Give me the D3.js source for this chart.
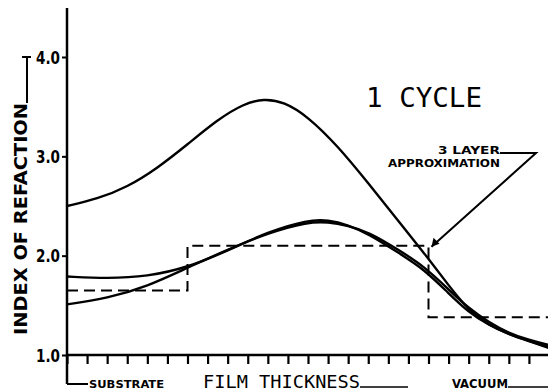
<!DOCTYPE html>
<html>
<head>
<meta charset="utf-8">
<script src="https://cdn.jsdelivr.net/npm/d3@7"></script>
<style>
  body { margin: 0; background: #fff; }
  svg { display: block; }
</style>
</head>
<body>
<svg id="chart"></svg>
<script>
// film thickness in tick units (0..24), index of refraction
const yTicks = [1.0, 2.0, 3.0, 4.0];
const xTicks = d3.range(0, 24);

const profileTop = [
  [0, 2.50], [1.5, 2.57], [3, 2.69], [4.5, 2.88], [6, 3.12], [7.5, 3.37], [8.8, 3.53],
  [9.8, 3.58], [10.8, 3.55], [12, 3.40], [13.5, 3.10], [15, 2.73], [16.5, 2.35],
  [18, 1.97], [19, 1.70], [20, 1.45], [21, 1.30], [22, 1.21], [23, 1.14], [24, 1.08]
];
const profileB = [
  [0, 1.79], [2, 1.77], [4, 1.79], [6, 1.88], [8, 2.05], [10, 2.24], [12, 2.36],
  [13, 2.36], [14, 2.31], [15, 2.22], [16.5, 2.03], [17.8, 1.86], [19, 1.62],
  [20, 1.43], [21, 1.30], [22, 1.21], [23, 1.14], [24, 1.07]
];
const profileC = [
  [0, 1.51], [2, 1.57], [4, 1.69], [6, 1.88], [8, 2.06], [10, 2.23], [12, 2.34],
  [13, 2.34], [14, 2.30], [15, 2.24], [16.5, 2.06], [17.8, 1.89], [19, 1.66],
  [20, 1.47], [21, 1.33], [22, 1.22], [23, 1.15], [24, 1.10]
];
// 3 layer approximation (step after)
const layers = [[0, 1.65], [6, 2.10], [18, 1.38], [24, 1.38]];

const width = 548, height = 392;
const svg = d3.select('#chart').attr('width', width).attr('height', height);
svg.append('rect').attr('width', width).attr('height', height).attr('fill', '#fff');

const x = d3.scaleLinear().domain([0, 24]).range([67, 549]);
const y = d3.scaleLinear().domain([1, 4]).range([355, 57]);

const ink = '#000';
const boldFont = '"DejaVu Sans Condensed", "DejaVu Sans", sans-serif';

// y axis
const yAxis = svg.append('g')
  .attr('transform', `translate(${x(0)},0)`)
  .call(d3.axisLeft(y).tickValues(yTicks).tickFormat(d3.format('.1f')).tickSize(5));
yAxis.select('.domain').remove();
yAxis.selectAll('.tick line').attr('stroke', ink).attr('stroke-width', 2);
yAxis.selectAll('.tick text')
  .attr('x', -7).attr('dy', '0.36em')
  .style('font-family', boldFont).style('font-weight', 'bold')
  .style('font-size', '17px').attr('fill', ink)
  .attr('textLength', 24).attr('lengthAdjust', 'spacingAndGlyphs');
svg.append('line')
  .attr('x1', x(0)).attr('x2', x(0)).attr('y1', 8).attr('y2', 384)
  .attr('stroke', ink).attr('stroke-width', 2.5);

// x axis
const xAxis = svg.append('g')
  .attr('transform', `translate(0,${y(1)})`)
  .call(d3.axisBottom(x).tickValues(xTicks).tickFormat('').tickSize(9));
xAxis.select('.domain').remove();
xAxis.selectAll('.tick line').attr('stroke', ink).attr('stroke-width', 2.2);
svg.append('line')
  .attr('x1', x(0)).attr('x2', width).attr('y1', y(1)).attr('y2', y(1))
  .attr('stroke', ink).attr('stroke-width', 2.5);

// curves
const line = d3.line().x(d => x(d[0])).y(d => y(d[1])).curve(d3.curveBasis);
[profileTop, profileB, profileC].forEach(p => {
  svg.append('path').attr('d', line(p))
    .attr('fill', 'none').attr('stroke', ink).attr('stroke-width', 2.4);
});

const step = d3.line().x(d => x(d[0])).y(d => y(d[1])).curve(d3.curveStepAfter);
svg.append('path').attr('d', step(layers))
  .attr('fill', 'none').attr('stroke', ink).attr('stroke-width', 2)
  .attr('stroke-dasharray', '11,6');

// annotation
svg.append('text')
  .attr('x', 366).attr('y', 107)
  .style('font-family', '"DejaVu Sans Mono", monospace')
  .style('font-size', '27px').attr('fill', ink)
  .attr('textLength', 116).attr('lengthAdjust', 'spacingAndGlyphs')
  .text('1 CYCLE');

svg.append('text')
  .attr('x', 438).attr('y', 154)
  .style('font-family', boldFont).style('font-weight', 'bold')
  .style('font-size', '11px').attr('fill', ink)
  .attr('textLength', 62).attr('lengthAdjust', 'spacingAndGlyphs')
  .text('3 LAYER');
svg.append('text')
  .attr('x', 388).attr('y', 167)
  .style('font-family', boldFont).style('font-weight', 'bold')
  .style('font-size', '11px').attr('fill', ink)
  .attr('textLength', 112).attr('lengthAdjust', 'spacingAndGlyphs')
  .text('APPROXIMATION');
const tip = [x(18) + 3, y(2.1) + 1];
svg.append('path')
  .attr('d', `M500,153 L536,153 L${tip[0]},${tip[1]}`)
  .attr('fill', 'none').attr('stroke', ink).attr('stroke-width', 2);
svg.append('path')
  .attr('d', `M${tip[0]},${tip[1]} l2,-9 l6,6 z`)
  .attr('fill', ink);

// y label
svg.append('text')
  .attr('transform', 'translate(27,335) rotate(-90)')
  .style('font-family', boldFont).style('font-weight', 'bold')
  .style('font-size', '17px').attr('fill', ink)
  .attr('textLength', 232).attr('lengthAdjust', 'spacingAndGlyphs')
  .text('INDEX OF REFACTION');
svg.append('path')
  .attr('d', 'M27,103 L27,57 M22,57 L31,57')
  .attr('fill', 'none').attr('stroke', ink).attr('stroke-width', 2);

// bottom labels
svg.append('path')
  .attr('d', `M${x(0)},384 L88,384`)
  .attr('fill', 'none').attr('stroke', ink).attr('stroke-width', 2);
svg.append('text')
  .attr('x', 89).attr('y', 388)
  .style('font-family', boldFont).style('font-weight', 'bold')
  .style('font-size', '11px').attr('fill', ink)
  .attr('textLength', 75).attr('lengthAdjust', 'spacingAndGlyphs')
  .text('SUBSTRATE');
svg.append('text')
  .attr('x', 203).attr('y', 388)
  .style('font-family', '"DejaVu Sans Mono", monospace')
  .style('font-size', '18px').attr('fill', ink)
  .attr('textLength', 157).attr('lengthAdjust', 'spacingAndGlyphs')
  .text('FILM THICKNESS');
svg.append('line')
  .attr('x1', 360).attr('x2', 408).attr('y1', 387).attr('y2', 387)
  .attr('stroke', ink).attr('stroke-width', 1.5);
svg.append('text')
  .attr('x', 452).attr('y', 388)
  .style('font-family', boldFont).style('font-weight', 'bold')
  .style('font-size', '12px').attr('fill', ink)
  .attr('textLength', 56).attr('lengthAdjust', 'spacingAndGlyphs')
  .text('VACUUM');
svg.append('line')
  .attr('x1', 508).attr('x2', 548).attr('y1', 387).attr('y2', 387)
  .attr('stroke', ink).attr('stroke-width', 1.5);
</script>
</body>
</html>
